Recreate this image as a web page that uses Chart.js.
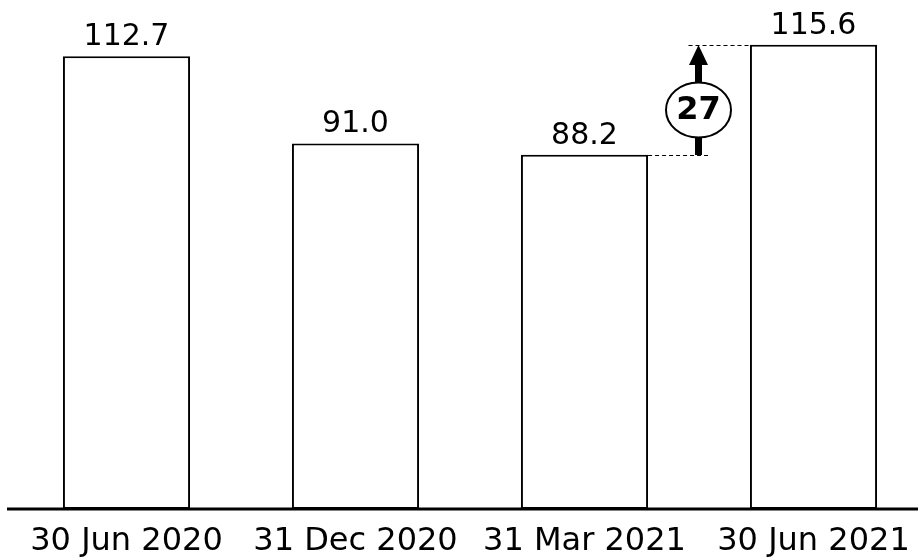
<!DOCTYPE html>
<html>
<head>
<meta charset="utf-8">
<script src="https://cdn.jsdelivr.net/npm/chart.js@4"></script>
<style>
  html, body { margin: 0; padding: 0; background: #fff; }
  #wrap { width: 918px; height: 557px; overflow: hidden; }
  #wrap canvas { display: block; }
</style>
</head>
<body>
<div id="wrap"><canvas id="chart" width="940" height="557"></canvas></div>
<script>
var labels = ['30 Jun 2020', '31 Dec 2020', '31 Mar 2021', '30 Jun 2021'];
var values = [112.7, 91.0, 88.2, 115.6];
// change shown between the last two periods
var fromIndex = 2;
var toIndex = 3;

var FONT = '"DejaVu Sans", Verdana, sans-serif';

// numbers above each bar
var valueLabels = {
  id: 'valueLabels',
  afterDatasetsDraw: function (chart) {
    var ctx = chart.ctx;
    var meta = chart.getDatasetMeta(0);
    ctx.save();
    ctx.fillStyle = '#000';
    ctx.font = '30px ' + FONT;
    ctx.textAlign = 'center';
    ctx.textBaseline = 'alphabetic';
    meta.data.forEach(function (bar, i) {
      ctx.fillText(values[i].toFixed(1), bar.x, bar.y - 11);
    });
    ctx.restore();
  }
};

// baseline under the bars
var baseline = {
  id: 'baseline',
  afterDraw: function (chart) {
    var ctx = chart.ctx;
    var y = chart.scales.y.getPixelForValue(0);
    ctx.save();
    ctx.strokeStyle = '#000';
    ctx.lineWidth = 3;
    ctx.beginPath();
    ctx.moveTo(chart.chartArea.left - 5, y);
    ctx.lineTo(chart.chartArea.right, y);
    ctx.stroke();
    ctx.restore();
  }
};

// dashed guides, arrow and the rounded difference in an ellipse
var changeArrow = {
  id: 'changeArrow',
  afterDraw: function (chart) {
    var ctx = chart.ctx;
    var meta = chart.getDatasetMeta(0);
    var a = meta.data[fromIndex];
    var b = meta.data[toIndex];
    var ya = Math.round(chart.scales.y.getPixelForValue(values[fromIndex]));
    var yb = Math.round(chart.scales.y.getPixelForValue(values[toIndex]));
    var aRight = a.x + a.width / 2;
    var bLeft = b.x - b.width / 2;
    var cx = Math.round((aRight + bLeft) / 2) - 0.5;
    var cy = (ya + yb) / 2 + 10;

    ctx.save();
    ctx.strokeStyle = '#000';
    ctx.lineWidth = 1.2;
    ctx.setLineDash([4, 3]);
    ctx.beginPath();
    ctx.moveTo(cx - 10, yb + 0.5);
    ctx.lineTo(bLeft, yb + 0.5);
    ctx.moveTo(aRight, ya + 0.5);
    ctx.lineTo(cx + 10, ya + 0.5);
    ctx.stroke();
    ctx.setLineDash([]);

    // shaft
    ctx.lineWidth = 7;
    ctx.beginPath();
    ctx.moveTo(cx, ya);
    ctx.lineTo(cx, yb + 16);
    ctx.stroke();

    // head
    ctx.fillStyle = '#000';
    ctx.beginPath();
    ctx.moveTo(cx, yb);
    ctx.lineTo(cx - 9.5, yb + 20);
    ctx.lineTo(cx + 9.5, yb + 20);
    ctx.closePath();
    ctx.fill();

    // ellipse with the value
    ctx.fillStyle = '#fff';
    ctx.lineWidth = 2;
    ctx.beginPath();
    ctx.ellipse(cx, cy, 32.5, 27.5, 0, 0, Math.PI * 2);
    ctx.fill();
    ctx.stroke();

    ctx.fillStyle = '#000';
    ctx.font = 'bold 32px ' + FONT;
    ctx.textAlign = 'center';
    ctx.textBaseline = 'middle';
    ctx.fillText(String(Math.round(values[toIndex] - values[fromIndex])), cx, cy + 1);
    ctx.restore();
  }
};

new Chart(document.getElementById('chart'), {
  type: 'bar',
  data: {
    labels: labels,
    datasets: [
      {
        data: values,
        backgroundColor: '#fff',
        borderColor: '#000',
        borderWidth: 2,
        borderSkipped: false,
        categoryPercentage: 1,
        barPercentage: 0.555
      }
    ]
  },
  options: {
    responsive: false,
    animation: false,
    events: [],
    layout: { padding: { left: 12, right: 12, top: 27, bottom: 0 } },
    plugins: {
      legend: { display: false },
      tooltip: { enabled: false }
    },
    scales: {
      x: {
        grid: { display: false },
        border: { display: false },
        ticks: {
          color: '#000',
          font: { family: FONT, size: 32 },
          padding: 5,
          maxRotation: 0,
          autoSkip: false
        },
        afterFit: function (scale) { scale.height = 48; }
      },
      y: {
        display: false,
        min: 0,
        max: 120
      }
    }
  },
  plugins: [valueLabels, baseline, changeArrow]
});
</script>
</body>
</html>
